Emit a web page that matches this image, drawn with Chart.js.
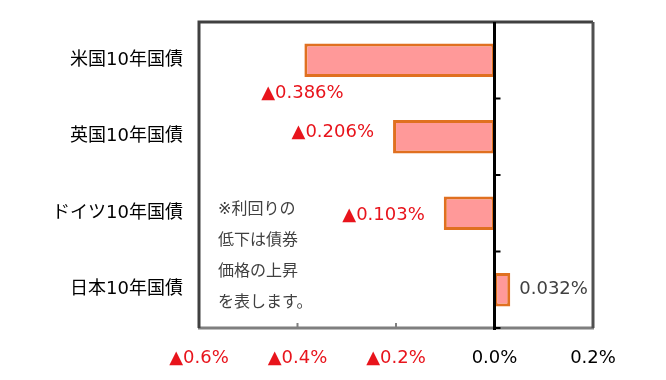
<!DOCTYPE html>
<html>
<head>
<meta charset="utf-8">
<script src="https://cdn.jsdelivr.net/npm/chart.js@4"></script>
<style>
  html, body { margin: 0; padding: 0; background: #fff; }
  #wrap { width: 666px; height: 380px; }
</style>
</head>
<body>
<div id="wrap"><canvas id="bondChart" width="666" height="380"></canvas></div>
<script>
// data (percent points)
const categories = ["米国10年国債", "英国10年国債", "ドイツ10年国債", "日本10年国債"];
const yieldChange = [-0.386, -0.206, -0.103, 0.032];
const axisMin = -0.6;
const axisMax = 0.2;
const axisStep = 0.2;
const noteLines = ["※利回りの", "低下は債券", "価格の上昇", "を表します。"];

// where each value label sits relative to its bar end (Excel placed them by hand)
const labelPlace = [
    { dx: -2, dy: 33, align: "center" },
    { dx: -19, dy: -4, align: "right" },
    { dx: -19, dy: 2, align: "right" },
    { dx: 9, dy: 0, align: "left" }
];

const FONT = "'DejaVu Sans', 'Noto Sans CJK JP', sans-serif";
const RED = "#e8141c";

function fmt(v) {
    let r = Math.round(v * 1000) / 1000;
    return r < 0 ? "▲" + Math.abs(r).toFixed(3) + "%" : r.toFixed(3) + "%";
}

const framePlugin = {
    id: "frame",
    afterDatasetsDraw(chart) {
        const ctx = chart.ctx;
        const a = chart.chartArea;
        const xs = chart.scales.x;
        const ys = chart.scales.y;
        ctx.save();
        ctx.lineCap = "butt";

        // bottom axis
        ctx.strokeStyle = "#7f7f7f";
        ctx.lineWidth = 3;
        ctx.beginPath();
        ctx.moveTo(a.left - 1, a.bottom);
        ctx.lineTo(a.right + 1, a.bottom);
        ctx.stroke();
        ctx.lineWidth = 2;
        xs.ticks.forEach(t => {
            let px = xs.getPixelForValue(t.value);
            if (Math.abs(px - a.left) < 2 || Math.abs(px - a.right) < 2) return;
            ctx.beginPath();
            ctx.moveTo(px, a.bottom);
            ctx.lineTo(px, a.bottom - 5);
            ctx.stroke();
        });

        // top, left, right border
        ctx.strokeStyle = "#404040";
        ctx.lineWidth = 3;
        ctx.beginPath();
        ctx.moveTo(a.left, a.bottom);
        ctx.lineTo(a.left, a.top);
        ctx.lineTo(a.right, a.top);
        ctx.stroke();
        ctx.strokeStyle = "#505050";
        ctx.beginPath();
        ctx.moveTo(a.right, a.top);
        ctx.lineTo(a.right, a.bottom);
        ctx.stroke();

        // zero line with category ticks
        let zx = xs.getPixelForValue(0);
        ctx.strokeStyle = "#000";
        ctx.lineWidth = 3;
        ctx.beginPath();
        ctx.moveTo(zx, a.top);
        ctx.lineTo(zx, a.bottom + 2);
        ctx.stroke();
        ctx.lineWidth = 2;
        for (let i = 0; i < categories.length; i++) {
            let yb = i < categories.length - 1
                ? (ys.getPixelForValue(i) + ys.getPixelForValue(i + 1)) / 2
                : a.bottom;
            ctx.beginPath();
            ctx.moveTo(zx, yb);
            ctx.lineTo(zx + 6, yb);
            ctx.stroke();
        }

        // value labels
        const meta = chart.getDatasetMeta(0);
        ctx.font = "18px " + FONT;
        ctx.textBaseline = "middle";
        meta.data.forEach((bar, i) => {
            let p = labelPlace[i];
            ctx.fillStyle = yieldChange[i] < 0 ? RED : "#404040";
            ctx.textAlign = p.align;
            ctx.fillText(fmt(yieldChange[i]), bar.x + p.dx, bar.y + p.dy);
        });

        // note
        ctx.font = "16px " + FONT;
        ctx.fillStyle = "#404040";
        ctx.textAlign = "left";
        noteLines.forEach((line, i) => {
            ctx.fillText(line, a.left + 19, 210 + i * 31);
        });
        ctx.restore();
    }
};

new Chart(document.getElementById("bondChart"), {
    type: "bar",
    data: {
        labels: categories,
        datasets: [{
            data: yieldChange,
            backgroundColor: "#ff9999",
            borderColor: "#e07020",
            borderWidth: 3,
            borderSkipped: false,
            categoryPercentage: 1,
            barPercentage: 0.44
        }]
    },
    options: {
        indexAxis: "y",
        responsive: false,
        animation: false,
        layout: { padding: { top: 22, right: 73, left: 0, bottom: 0 } },
        plugins: { legend: { display: false }, tooltip: { enabled: false } },
        scales: {
            x: {
                min: axisMin,
                max: axisMax,
                grid: { display: false, drawTicks: false },
                border: { display: false },
                ticks: {
                    stepSize: axisStep,
                    padding: 20,
                    font: { size: 18, family: FONT },
                    color: c => (Math.round(c.tick.value * 10) < 0 ? RED : "#000"),
                    callback: v => {
                        let r = Math.round(v * 10) / 10;
                        return r < 0 ? "▲" + Math.abs(r).toFixed(1) + "%" : Math.abs(r).toFixed(1) + "%";
                    }
                },
                afterFit: s => { s.height = 52; s.paddingLeft = 0; s.paddingRight = 0; }
            },
            y: {
                grid: { display: false, drawTicks: false },
                border: { display: false },
                ticks: {
                    padding: 16,
                    font: { size: 18, family: FONT },
                    color: "#000"
                },
                afterFit: s => { s.width = 199; s.paddingTop = 0; s.paddingBottom = 0; }
            }
        }
    },
    plugins: [framePlugin]
});
</script>
</body>
</html>
